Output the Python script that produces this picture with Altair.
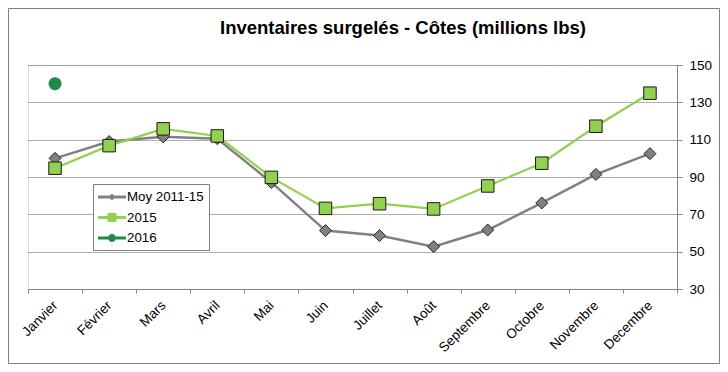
import altair as alt
import pandas as pd

months = ["Janvier", "Février", "Mars", "Avril", "Mai", "Juin", "Juillet",
          "Août", "Septembre", "Octobre", "Novembre", "Decembre"]
moy = [100, 109, 111.5, 110.5, 87.1, 61.3, 58.6, 52.7, 61.6, 76.1, 91.4, 102.5]
y2015 = [94.7, 106.8, 115.8, 112.0, 89.8, 73.2, 75.7, 72.9, 85.2, 97.4, 117.2, 134.9]
y2016 = [140]

series = ["Moy 2011-15", "2015", "2016"]
colors = ["#808080", "#92D050", "#218A47"]
y_ticks = [30, 50, 70, 90, 110, 130, 150]

rows = []
for m, v in zip(months, moy):
    rows.append({"month": m, "value": v, "series": series[0]})
for m, v in zip(months, y2015):
    rows.append({"month": m, "value": v, "series": series[1]})
for m, v in zip(months, y2016):
    rows.append({"month": m, "value": v, "series": series[2]})
df = pd.DataFrame(rows)

FONT = "Liberation Sans"

x_enc = alt.X(
    "month:N",
    sort=months,
    scale=alt.Scale(type="band", paddingInner=0, paddingOuter=0),
    axis=alt.Axis(title=None, labelAngle=-45, labelAlign="right", labelBaseline="middle",
                  labelFontSize=13.5, labelFont=FONT, labelColor="black",
                  tickBand="extent", tickSize=4, tickColor="#868686",
                  domainColor="#868686", grid=False, labelPadding=10),
)
y_enc = alt.Y(
    "value:Q",
    scale=alt.Scale(domain=[30, 150], nice=False, zero=False),
    axis=alt.Axis(orient="right", values=y_ticks, title=None, grid=True,
                  gridColor="#5f5f5f", gridDash=[1, 1], gridWidth=1,
                  tickSize=5, tickColor="#868686", domainColor="#868686",
                  labelPadding=7, labelFontSize=13.5, labelFont=FONT, labelColor="black"),
)

base = alt.Chart(df)

def line_layer(i, width):
    return base.transform_filter(alt.datum.series == series[i]).mark_line(
        strokeWidth=width, stroke=colors[i]).encode(x=x_enc, y=y_enc)

def point_layer(i, shape, size, stroke, sw):
    kw = dict(filled=True, opacity=1, shape=shape, size=size, fill=colors[i])
    if stroke:
        kw.update(stroke=stroke, strokeWidth=sw)
    return base.transform_filter(alt.datum.series == series[i]).mark_point(**kw).encode(
        x=x_enc, y=y_enc)

legend_paths = [
    "M-1,-0.18H2.5V0.18H-1Z M0.75,-0.45L1.2,0L0.75,0.45L0.3,0Z",
    "M-1,-0.18H2.5V0.18H-1Z M0.2,-0.55H1.3V0.55H0.2Z",
    "M-1,-0.18H2.5V0.18H-1Z M1.25,0A0.5,0.5 0 1,1 0.25,0A0.5,0.5 0 1,1 1.25,0Z",
]

def make_legend():
    return alt.Legend(
        orient="none", legendX=65, legendY=119, title=None,
        labelFontSize=13.3, labelFont=FONT, labelColor="black",
        symbolSize=256, strokeColor="#7f7f7f", fillColor="white",
        padding=5, rowPadding=5.5, labelOffset=13, symbolStrokeWidth=0)

legend_layer = base.transform_filter("false").mark_point(filled=True, opacity=1).encode(
    x=x_enc, y=y_enc,
    color=alt.Color("series:N", scale=alt.Scale(domain=series, range=colors), legend=make_legend()),
    shape=alt.Shape("series:N", scale=alt.Scale(domain=series, range=legend_paths), legend=make_legend()),
)

border = alt.Chart(pd.DataFrame({"a": [0]})).mark_rect(
    filled=False, stroke="#7f7f7f", strokeWidth=1
).encode(x=alt.value(-19.5), x2=alt.value(691.5), y=alt.value(-56.5), y2=alt.value(298.5))

chart = alt.layer(
    border,
    line_layer(0, 2.5),
    point_layer(0, "diamond", 144, "#262626", 1),
    line_layer(1, 2.2),
    point_layer(1, "square", 156, "#1a1a1a", 1),
    point_layer(2, "circle", 169, None, 0),
    legend_layer,
).properties(
    width=649, height=224,
    autosize=alt.AutoSizeParams(type="none"),
    padding={"left": 20, "top": 57, "right": 43, "bottom": 75},
    title=alt.Title("Inventaires surgelés - Côtes (millions lbs)", fontSize=18.5, fontWeight="bold",
                    font=FONT, color="black", anchor="middle", frame="group", dx=50.5,
                    offset=0, dy=48.3, baseline="bottom"),
).configure_view(stroke=None).configure(background="white")

chart.save("out.html", embed_options={"renderer": "svg", "actions": False})
